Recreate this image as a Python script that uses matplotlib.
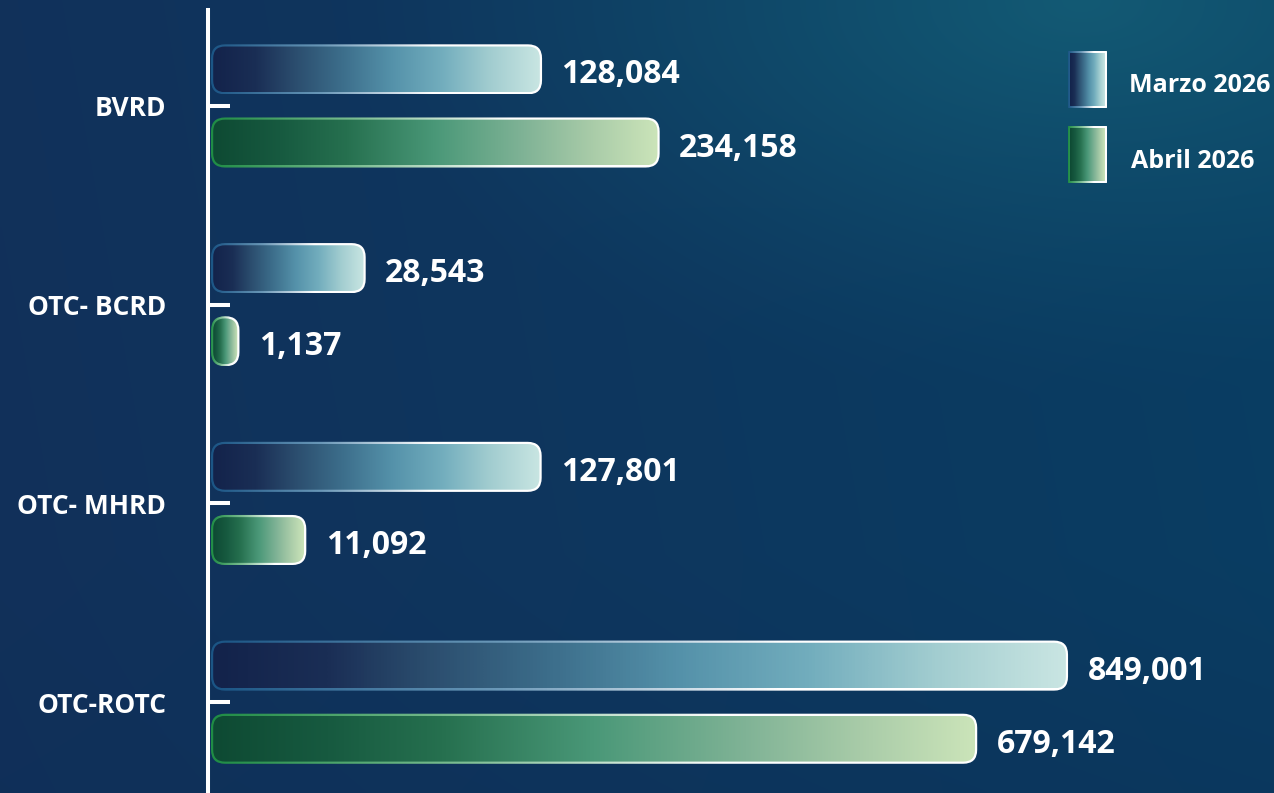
import numpy as np
import matplotlib.pyplot as plt
from matplotlib.colors import LinearSegmentedColormap, to_rgb
from matplotlib.patches import FancyBboxPatch

# datos
categorias = ['BVRD', 'OTC- BCRD', 'OTC- MHRD', 'OTC-ROTC']
marzo_2026 = [128084, 28543, 127801, 849001]
abril_2026 = [234158, 1137, 11092, 679142]
series = ['Marzo 2026', 'Abril 2026']

plt.rcParams['font.family'] = ['Open Sans', 'DejaVu Sans']

W, H = 1274, 793
fig = plt.figure(figsize=(W / 100, H / 100), dpi=100)

# fondo degradado
bg = fig.add_axes([0, 0, 1, 1], zorder=0)
bg.axis('off')
yy, xx = np.mgrid[0:1:200j, 0:1:320j]
c_left = np.array(to_rgb('#12305a'))
c_right = np.array(to_rgb('#093e63'))
c_glow = np.array(to_rgb('#135a74'))
t = np.clip(xx * 0.9 + 0.1 * (1 - yy), 0, 1)[..., None]
img = c_left * (1 - t) + c_right * t
d = np.sqrt(((xx - 0.85) * 1.7) ** 2 + (yy / 0.5) ** 2)
g = np.clip(1 - d, 0, 1)[..., None] ** 1.3
img = img * (1 - g) + c_glow * g
bot = np.clip((yy - 0.7) / 0.3, 0, 1)[..., None] * 0.35
img = img * (1 - bot) + np.array(to_rgb('#0c2f57')) * bot
bg.imshow(img, extent=(0, W, H, 0), aspect='auto', interpolation='bilinear')
bg.set_xlim(0, W)
bg.set_ylim(H, 0)

# ejes principales (escala raiz cuadrada en x)
ax = fig.add_axes([208 / W, 0, 1 - 208 / W, 1], zorder=3)
ax.patch.set_alpha(0)
ax.set_xscale('function', functions=(np.sqrt, np.square))
ax.set_xlim(0, 1.3043e6)
ax.set_ylim(3.457, -0.533)

pos = np.arange(len(categorias))
off, h = 0.184, 0.252
bars_m = ax.barh(pos - off, marzo_2026, height=h, alpha=0)
bars_a = ax.barh(pos + off, abril_2026, height=h, alpha=0)

for s in ['top', 'right', 'bottom']:
    ax.spines[s].set_visible(False)
ax.spines['left'].set_color('white')
ax.spines['left'].set_linewidth(2.9)
ax.spines['left'].set_bounds(3.457, -0.483)
ax.set_xticks([])
ax.set_yticks(pos)
ax.set_yticklabels(categorias)
ax.tick_params(axis='y', direction='in', length=16, width=2.9, color='white',
               labelcolor='white', labelsize=19, pad=30)
for lb in ax.get_yticklabels():
    lb.set_fontweight('bold')

# capa de dibujo en pixeles
ov = fig.add_axes([0, 0, 1, 1], zorder=2)
ov.axis('off')
ov.set_xlim(0, W)
ov.set_ylim(0, H)

cmap_m = LinearSegmentedColormap.from_list('m', [
    (0, '#13234b'), (0.13, '#1a2e55'), (0.25, '#2b4d6e'), (0.4, '#3d6f8c'),
    (0.55, '#5592aa'), (0.7, '#72adbd'), (0.85, '#a2cdd0'), (1, '#c8e5e2')])
cmap_a = LinearSegmentedColormap.from_list('a', [
    (0, '#0e4a33'), (0.15, '#175a40'), (0.3, '#26704f'), (0.5, '#4a9878'),
    (0.7, '#80b396'), (0.85, '#a8cba8'), (1, '#cbe4b9')])
edge_m = LinearSegmentedColormap.from_list('em', ['#1b5585', '#6a98b8', '#ffffff', '#ffffff'])
edge_a = LinearSegmentedColormap.from_list('ea', ['#1f8c45', '#7fbf95', '#ffffff', '#ffffff'])
grad = np.linspace(0, 1, 256)[None, :]


def gradient_box(x0, y0, w, h, cmap, ecmap, r=14, lw=2.2):
    r = min(r, w / 2, h / 2)
    outer = FancyBboxPatch((x0, y0), w, h, boxstyle=f'round,pad=0,rounding_size={r}',
                           facecolor='none', edgecolor='none')
    ov.add_patch(outer)
    im = ov.imshow(grad, cmap=ecmap, extent=(x0, x0 + w, y0, y0 + h),
                   aspect='auto', interpolation='bilinear', zorder=2)
    im.set_clip_path(outer)
    ri = max(r - lw, 0.5)
    inner = FancyBboxPatch((x0 + lw, y0 + lw), w - 2 * lw, h - 2 * lw,
                           boxstyle=f'round,pad=0,rounding_size={min(ri, (w - 2 * lw) / 2)}',
                           facecolor='none', edgecolor='none')
    ov.add_patch(inner)
    im2 = ov.imshow(grad, cmap=cmap, extent=(x0 + lw, x0 + w - lw, y0 + lw, y0 + h - lw),
                    aspect='auto', interpolation='bilinear', zorder=3)
    im2.set_clip_path(inner)


fig.canvas.draw()
for bars, vals, cm, ecm in [(bars_m, marzo_2026, cmap_m, edge_m),
                            (bars_a, abril_2026, cmap_a, edge_a)]:
    for b, v in zip(bars, vals):
        bb = b.get_window_extent()
        x0 = bb.x0 + 3
        gradient_box(x0, bb.y0, bb.x1 - x0, bb.height, cm, ecm)
        ax.annotate(f'{v:,}', (v, b.get_y() + b.get_height() / 2), xytext=(14, -4),
                    textcoords='offset points', va='center', ha='left',
                    color='white', fontsize=23, fontweight='bold')

# leyenda
for i, (lab, cm, ecm) in enumerate([(series[0], cmap_m, edge_m),
                                    (series[1], cmap_a, edge_a)]):
    ytop = 51 + i * 75
    gradient_box(1068, H - ytop - 57, 39, 57, cm, ecm, r=0.5, lw=2)
    ov.text(1129 + i * 2, H - ytop - 35, lab, color='white', fontsize=18,
            fontweight='bold', va='center', ha='left')

fig.savefig('out.png', dpi=100)
